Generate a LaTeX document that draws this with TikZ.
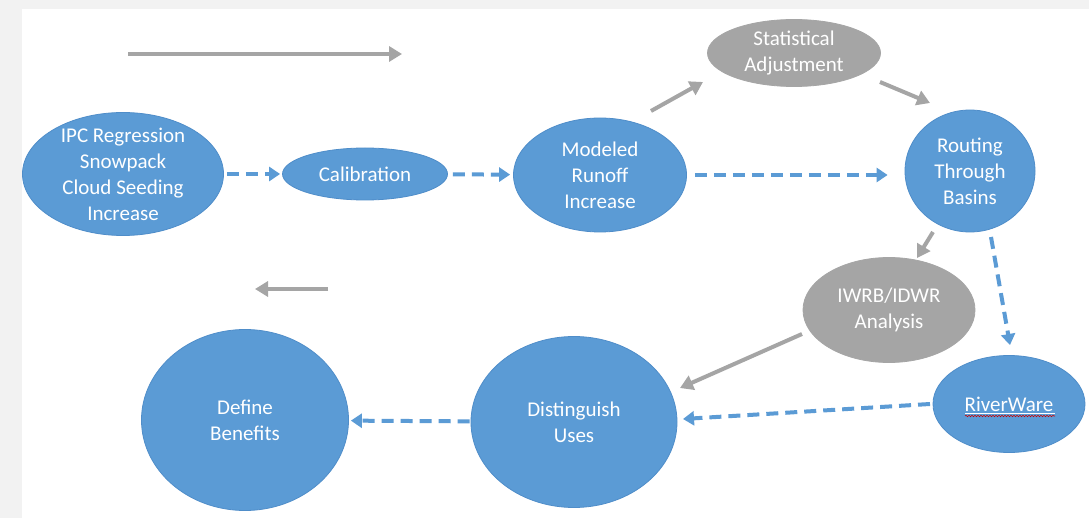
\documentclass[tikz,border=0pt]{standalone}
\usepackage{fontspec}
\setmainfont{Carlito}
\usetikzlibrary{shapes.geometric,arrows.meta,calc,decorations.pathmorphing}
\definecolor{bfill}{HTML}{5B9BD5}
\definecolor{bline}{HTML}{4F8DC9}
\definecolor{gfill}{HTML}{A5A5A5}
\definecolor{bgc}{HTML}{F2F2F2}
\tikzset{
  bell/.style={ellipse, draw=bline, line width=0.8pt, fill=bfill, inner sep=0pt},
  gell/.style={ellipse, draw=gfill, line width=0.8pt, fill=gfill, inner sep=0pt},
  txt/.style={text=white, align=center, font=\fontsize{21}{26}\selectfont},
  garrow/.style={draw=gfill, line width=4pt, -{Triangle[length=13pt,width=15pt]}},
  barrow/.style={draw=bfill, line width=4pt, dash pattern=on 12pt off 7pt, -{Triangle[length=11pt,width=14pt]}},
}
\begin{document}
\begin{tikzpicture}[x=1pt,y=-1pt]
\fill[bgc] (0,0) rectangle (1089,518);
\fill[white] (22,9) rectangle (1089,518);
\useasboundingbox (0,0) rectangle (1089,518);

% nodes
\node[bell, minimum width=201pt, minimum height=123pt,
  label={[txt]center:IPC Regression\\Snowpack\\Cloud Seeding\\Increase}] (ipc) at (123,174) {};
\node[bell, minimum width=165pt, minimum height=52pt,
  label={[txt]center:Calibration}] (cal) at (365,174) {};
\node[bell, minimum width=173pt, minimum height=114pt,
  label={[txt]center:Modeled\\Runoff\\Increase}] (mod) at (600,175) {};
\node[gell, minimum width=173pt, minimum height=67pt,
  label={[txt]center:Statistical\\Adjustment}] (stat) at (794,53) {};
\node[bell, minimum width=130pt, minimum height=122pt,
  label={[txt]center:Routing\\Through\\Basins}] (rout) at (970,171) {};
\node[gell, minimum width=172pt, minimum height=105pt,
  label={[txt]center:IWRB/IDWR\\Analysis}] (iwrb) at (889,310) {};
\node[bell, minimum width=152pt, minimum height=97pt,
  label={[txt]center:RiverWare}] (rw) at (1009,404) {};
\node[bell, minimum width=206pt, minimum height=171pt,
  label={[txt]center:Distinguish\\Uses}] (dist) at (574,422) {};
\node[bell, minimum width=207pt, minimum height=181pt,
  label={[txt]center:Define\\Benefits}] (def) at (245,420) {};

% RiverWare underlines
\draw[white, line width=0.8pt] ($(rw)+(-44,9)$) -- ($(rw)+(46,9)$);
\draw[red!80!black, line width=0.6pt, decorate, decoration={snake, amplitude=0.7pt, segment length=3pt}]
  ($(rw)+(-44,12)$) -- ($(rw)+(46,12)$);

% legend arrows
\coordinate (la1) at (128,54);
\coordinate (la2) at (402,54);
\coordinate (lb1) at (328,289);
\coordinate (lb2) at (255,289);
\draw[garrow] (la1) -- (la2);
\draw[garrow] (lb1) -- (lb2);

% dashed blue connectors
\draw[barrow, shorten <=3pt, shorten >=2pt] (ipc) -- (cal);
\draw[barrow, shorten <=5pt, shorten >=3pt] (cal) -- (mod);
\draw[barrow] ($(mod.east)+(8,0)$) -- ($(mod.east -| rout.west)+(-17,0)$);
\draw[barrow] ($(rout)+(21,66)$) -- ($(rw)+(1,-59)$);
\draw[barrow] ($(rw)+(-79,0)$) -- ($(dist)+(109,-3)$);
\draw[barrow, shorten <=1pt, shorten >=2pt] (dist) -- (def);

% gray connectors
\draw[garrow] ($(mod)+(51,-64)$) -- ($(stat)+(-91,29)$);
\draw[garrow] ($(stat)+(86,29)$) -- ($(rout)+(-40,-68)$);
\draw[garrow] ($(rout)+(-37,61)$) -- ($(iwrb)+(28,-52)$);
\draw[garrow] ($(iwrb)+(-87,24)$) -- ($(dist)+(106,-34)$);
\end{tikzpicture}
\end{document}
